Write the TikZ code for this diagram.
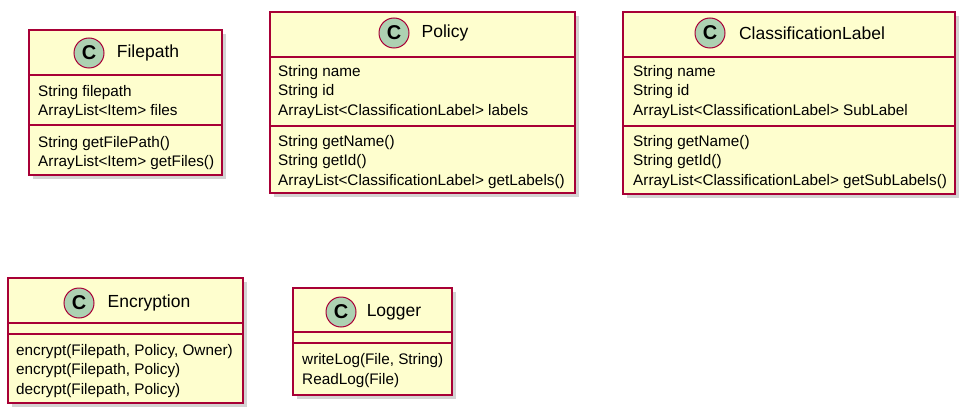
\documentclass[tikz,border=0pt]{standalone}
\usepackage{fontspec}
\setmainfont{Liberation Sans}
\usetikzlibrary{shadows}

\definecolor{umlfill}{HTML}{FEFECE}
\definecolor{umlline}{HTML}{A80036}
\definecolor{umlicon}{HTML}{ADD1B2}

\begin{document}
\begin{tikzpicture}[x=1pt, y=-1pt,
  classbox/.style={draw=umlline, fill=umlfill, line width=1.5pt, inner sep=0pt,
    drop shadow={shadow xshift=4pt, shadow yshift=-4pt, opacity=0.35}},
  classicon/.style={circle, draw=umlline, fill=umlicon, line width=1pt, minimum size=30pt,
    inner sep=0pt, font=\fontsize{20}{20}\selectfont\bfseries},
  classname/.style={inner sep=0pt, font=\fontsize{17.5}{17.5}\selectfont},
  members/.style={anchor=west, inner sep=0pt, align=left, font=\fontsize{15.3}{19.5}\selectfont},
  sepline/.style={draw=umlline, line width=1.5pt}]

  %% ════ 类框 ════
  \node[classbox, minimum width=193pt, minimum height=145pt] (filepath) at (125.5,102.5) {};
  \node[classbox, minimum width=305pt, minimum height=181pt] (policy) at (422.5,102.5) {};
  \node[classbox, minimum width=332pt, minimum height=182pt] (classlabel) at (789,103) {};
  \node[classbox, minimum width=235pt, minimum height=125pt] (encryption) at (125.5,340.5) {};
  \node[classbox, minimum width=159pt, minimum height=107pt] (logger) at (372.5,341.5) {};

  %% ════ 分隔线 ════
  \draw[sepline] (filepath.west |- 0,75) -- (filepath.east |- 0,75);
  \draw[sepline] (filepath.west |- 0,125) -- (filepath.east |- 0,125);
  \draw[sepline] (policy.west |- 0,57) -- (policy.east |- 0,57);
  \draw[sepline] (policy.west |- 0,126) -- (policy.east |- 0,126);
  \draw[sepline] (classlabel.west |- 0,57) -- (classlabel.east |- 0,57);
  \draw[sepline] (classlabel.west |- 0,126) -- (classlabel.east |- 0,126);
  \draw[sepline] (encryption.west |- 0,323) -- (encryption.east |- 0,323);
  \draw[sepline] (encryption.west |- 0,334) -- (encryption.east |- 0,334);
  \draw[sepline] (logger.west |- 0,332) -- (logger.east |- 0,332);
  \draw[sepline] (logger.west |- 0,343) -- (logger.east |- 0,343);

  %% ════ 标题（图标 + 类名）════
  \node[classicon] (filepathC) at (89,53) {C};
  \node[classname] (filepathT) at (148,53) {Filepath};
  \node[classicon] (policyC) at (394,33) {C};
  \node[classname] (policyT) at (445,33) {Policy};
  \node[classicon] (classlabelC) at (710,33) {C};
  \node[classname] (classlabelT) at (812,33) {ClassificationLabel};
  \node[classicon] (encryptionC) at (79,303) {C};
  \node[classname] (encryptionT) at (149,303) {Encryption};
  \node[classicon] (loggerC) at (341,312) {C};
  \node[classname] (loggerT) at (394,312) {Logger};

  %% ════ 成员 ════
  \node[members] (filepathA) at (38,102) {String filepath\\ArrayList<Item> files};
  \node[members] (filepathM) at (38,153) {String getFilePath()\\ArrayList<Item> getFiles()};
  \node[members] (policyA) at (278,92) {String name\\String id\\ArrayList<ClassificationLabel> labels};
  \node[members] (policyM) at (278,162) {String getName()\\String getId()\\ArrayList<ClassificationLabel> getLabels()};
  \node[members] (classlabelA) at (633,92) {String name\\String id\\ArrayList<ClassificationLabel> SubLabel};
  \node[members] (classlabelM) at (633,162) {String getName()\\String getId()\\ArrayList<ClassificationLabel> getSubLabels()};
  \node[members] (encryptionM) at (16,371) {encrypt(Filepath, Policy, Owner)\\encrypt(Filepath, Policy)\\decrypt(Filepath, Policy)};
  \node[members] (loggerM) at (302,370.5) {writeLog(File, String)\\ReadLog(File)};

  % 钉死画布
  \pgfresetboundingbox
  \path[use as bounding box] (0,0) rectangle (968,417);
\end{tikzpicture}
\end{document}
